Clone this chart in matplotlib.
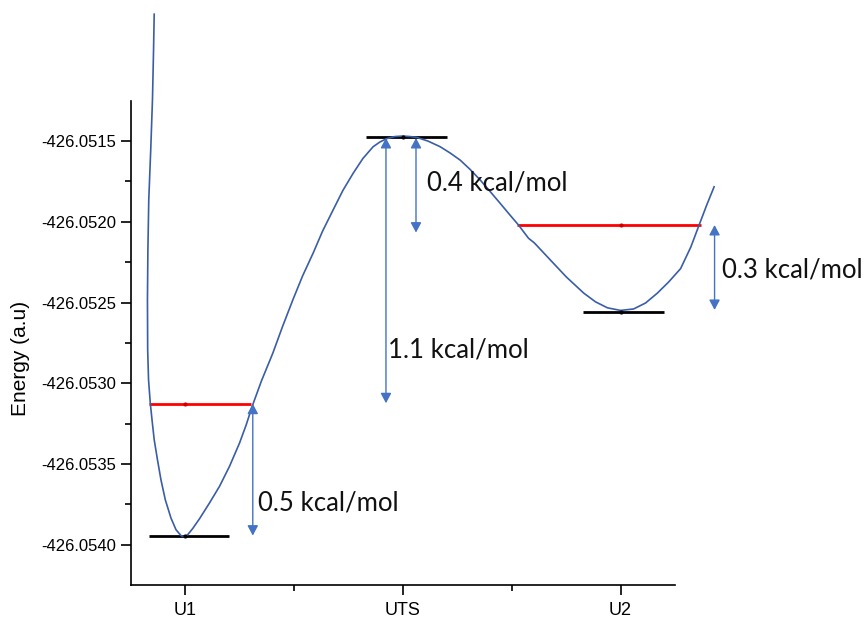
import matplotlib
matplotlib.use('Agg')
import matplotlib.pyplot as plt

# states on the x axis
states = ['U1', 'UTS', 'U2']
state_pos = [1, 2, 3]

# energy profile curve (x in state units, energy in a.u.)
curve_x = [0.857, 0.854, 0.849, 0.841, 0.832, 0.828, 0.826, 0.827, 0.831, 0.839,
           0.847, 0.857, 0.872, 0.888, 0.908, 0.934, 0.957, 0.980, 0.995, 1.010,
           1.034, 1.065, 1.111, 1.157, 1.203, 1.249, 1.280, 1.307, 1.350, 1.402,
           1.447, 1.494, 1.539, 1.587, 1.631, 1.679, 1.724, 1.771, 1.816, 1.863,
           1.894, 1.925, 1.963, 2.000, 2.032, 2.063, 2.115, 2.171, 2.217, 2.263,
           2.309, 2.355, 2.401, 2.447, 2.488, 2.531, 2.577, 2.604, 2.677, 2.751,
           2.831, 2.885, 2.940, 3.000, 3.060, 3.115, 3.169, 3.221, 3.276, 3.323,
           3.361, 3.396, 3.430]
curve_y = [-426.050714, -426.050937, -426.051246, -426.051556, -426.051865, -426.052175,
           -426.052484, -426.052793, -426.052979, -426.053123, -426.053227, -426.053350,
           -426.053474, -426.053598, -426.053722, -426.053835, -426.053907, -426.053944,
           -426.053950, -426.053940, -426.053900, -426.053840, -426.053742, -426.053639,
           -426.053515, -426.053371, -426.053257, -426.053144, -426.052985, -426.052814,
           -426.052648, -426.052484, -426.052335, -426.052195, -426.052057, -426.051927,
           -426.051806, -426.051700, -426.051608, -426.051535, -426.051506, -426.051485,
           -426.051472, -426.051469, -426.051472, -426.051477, -426.051500, -426.051535,
           -426.051574, -426.051618, -426.051676, -426.051741, -426.051813, -426.051886,
           -426.051952, -426.052020, -426.052102, -426.052131, -426.052236, -426.052342,
           -426.052442, -426.052496, -426.052533, -426.052549, -426.052540, -426.052503,
           -426.052442, -426.052373, -426.052290, -426.052156, -426.052020, -426.051896,
           -426.051783]

# black levels (state minima / TS): x start, x end, energy
black_x0 = [0.834, 1.829, 2.829]
black_x1 = [1.203, 2.203, 3.198]
black_e = [-426.053944, -426.051475, -426.052558]
black_mid = [1.0, 2.0, 3.0]

# red levels
red_x0 = [0.834, 2.525]
red_x1 = [1.304, 3.369]
red_e = [-426.053127, -426.052020]
red_mid = [1.0, 3.0]

# double arrows: x, energy from, energy to, label
arrow_x = [1.310, 1.922, 2.060, 3.432]
arrow_e0 = [-426.053127, -426.053124, -426.051481, -426.052020]
arrow_e1 = [-426.053944, -426.051481, -426.052067, -426.052546]
arrow_labels = ['0.5 kcal/mol', '1.1 kcal/mol', '0.4 kcal/mol', '0.3 kcal/mol']
label_x = [1.336, 1.931, 2.111, 3.465]
label_e = [-426.053742, -426.052796, -426.051759, -426.052297]

fig = plt.figure(figsize=(8.67, 6.19), dpi=100)
ax = fig.add_axes([0.151, 0.0549, 0.6275, 0.7824])

ax.plot(curve_x, curve_y, color='#3A5DA8', lw=1.2, clip_on=False, zorder=3)

for x0, x1, e, m in zip(black_x0, black_x1, black_e, black_mid):
    ax.plot([x0, x1], [e, e], color='black', lw=2.0, solid_capstyle='butt', zorder=2)
    ax.plot([m], [e], marker='o', ms=2, color='black', zorder=4)

for x0, x1, e, m in zip(red_x0, red_x1, red_e, red_mid):
    ax.plot([x0, x1], [e, e], color='#FF0000', lw=2.0, solid_capstyle='butt',
            clip_on=False, zorder=2)
    ax.plot([m], [e], marker='o', ms=2, color='#D00000', zorder=4)

for x, e0, e1 in zip(arrow_x, arrow_e0, arrow_e1):
    ax.annotate('', xy=(x, e1), xytext=(x, e0), annotation_clip=False,
                arrowprops=dict(arrowstyle='<|-|>,head_length=0.6,head_width=0.32',
                                color='#4472C4', lw=1.0, shrinkA=0, shrinkB=0))

for x, e, t in zip(label_x, label_e, arrow_labels):
    ax.text(x, e, t, fontsize=18.5, family='Lato', ha='left', va='center',
            color='#111111', clip_on=False)

ax.set_xlim(0.75, 3.25)
ax.set_ylim(-426.05425, -426.05125)
ax.set_xticks(state_pos)
ax.set_xticklabels(states)
ax.set_xticks([1.5, 2.5], minor=True)
ax.set_yticks([-426.0540, -426.0535, -426.0530, -426.0525, -426.0520, -426.0515])
ax.set_yticks([-426.05375, -426.05325, -426.05275, -426.05225, -426.05175], minor=True)
ax.yaxis.set_major_formatter(matplotlib.ticker.FormatStrFormatter('%.4f'))

for s in ['top', 'right']:
    ax.spines[s].set_visible(False)
for s in ['left', 'bottom']:
    ax.spines[s].set_linewidth(1.2)

ax.tick_params(which='major', length=7, width=1.2, labelsize=12)
ax.tick_params(axis='x', which='major', labelsize=13, pad=5)
ax.tick_params(which='minor', length=4.5, width=1.2)
for lab in ax.get_xticklabels() + ax.get_yticklabels():
    lab.set_family('Liberation Sans')

ax.set_ylabel('Energy (a.u)', fontsize=15, family='Liberation Sans')
ax.yaxis.set_label_coords(-0.186, 0.4677)

fig.savefig('out.png', dpi=100)
